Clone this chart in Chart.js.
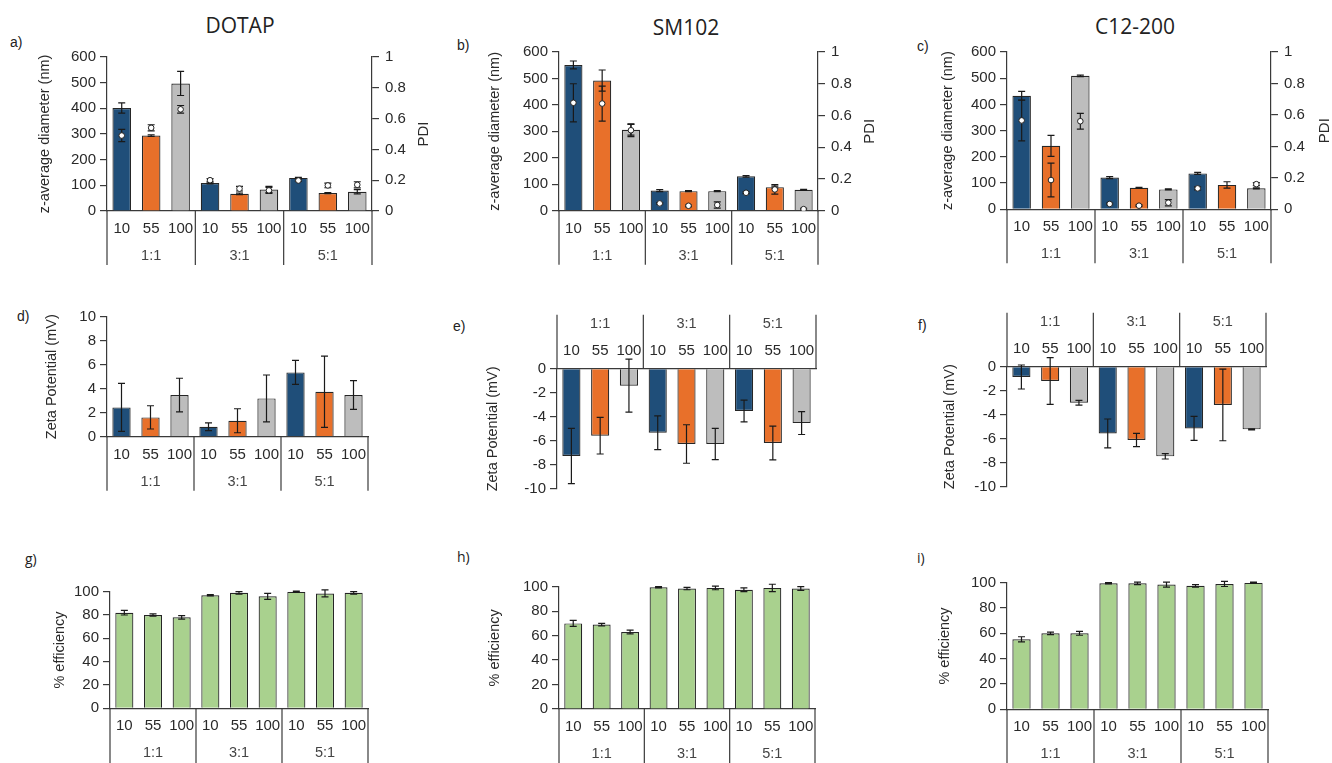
<!DOCTYPE html>
<html><head><meta charset="utf-8">
<script src="https://cdn.jsdelivr.net/npm/chart.js@4.4.1/dist/chart.umd.min.js"></script>
<style>
html,body{margin:0;padding:0;width:1332px;height:763px;overflow:hidden;background:#fff;position:relative;}
canvas{position:absolute;}
.t{position:absolute;font-family:"Open Sans","Noto Sans",sans-serif;font-size:21px;color:#222;transform:translate(-50%,-50%);white-space:nowrap;}
.l{position:absolute;font-family:"Liberation Sans",Arial,sans-serif;font-size:14px;color:#222;transform:translateY(-50%);white-space:nowrap;}
.l2{font-family:"Open Sans","Noto Sans",sans-serif;font-size:14px;}
</style></head><body>
<div class="t" style="left:240px;top:25px">DOTAP</div>
<div class="t" style="left:686px;top:27px">SM102</div>
<div class="t" style="left:1135px;top:26px">C12-200</div>
<div class="l" style="left:10px;top:42px">a)</div>
<div class="l" style="left:457px;top:45px">b)</div>
<div class="l" style="left:917px;top:46px">c)</div>
<div class="l" style="left:17px;top:316px">d)</div>
<div class="l" style="left:453px;top:326px">e)</div>
<div class="l" style="left:918px;top:325px">f)</div>
<div class="l l2" style="left:25px;top:558px">g)</div>
<div class="l l2" style="left:457px;top:556px">h)</div>
<div class="l l2" style="left:917px;top:557px">i)</div>
<script>
// ---------- data ----------
const categories = ['10','55','100','10','55','100','10','55','100'];
const groups = ['1:1','3:1','5:1'];

const zDOTAP      = [401, 294, 497, 109, 67, 84, 129, 70, 75];
const zDOTAPErr   = [20, 3, 47, 3, 3, 12, 2, 2, 8];
const pdiDOTAP    = [0.49, 0.54, 0.66, 0.20, 0.145, 0.134, 0.198, 0.166, 0.17];
const pdiDOTAPErr = [0.04, 0.02, 0.025, 0.01, 0.015, 0.02, 0.005, 0.015, 0.02];

const zSM      = [551, 492, 306, 76, 74, 74, 130, 89, 79];
const zSMErr   = [15, 40, 20, 4, 2, 2, 3, 4, 2];
const pdiSM    = [0.68, 0.675, 0.507, 0.046, 0.031, 0.036, 0.113, 0.134, 0.01];
const pdiSMErr = [0.12, 0.11, 0.04, 0.005, 0.005, 0.02, 0.005, 0.03, 0.005];

const zC      = [433, 242, 509, 121, 82, 76, 137, 93, 80];
const zCErr   = [17, 40, 3, 4, 2, 2, 4, 12, 2];
const pdiC    = [0.565, 0.186, 0.56, 0.034, 0.023, 0.042, 0.133, null, 0.16];
const pdiCErr = [0.13, 0.107, 0.05, 0.005, 0.005, 0.02, 0.01, 0, 0.01];

const zetaDOTAP    = [2.44, 1.61, 3.47, 0.83, 1.33, 3.19, 5.36, 3.75, 3.47];
const zetaDOTAPErr = [2.0, 0.97, 1.4, 0.33, 1.0, 1.95, 1.0, 2.97, 1.2];
const zetaSM       = [-7.26, -5.57, -1.41, -5.32, -6.26, -6.26, -3.52, -6.18, -4.52];
const zetaSMErr    = [2.3, 1.52, 2.2, 1.4, 1.6, 1.3, 0.9, 1.4, 0.95];
const zetaC        = [-0.86, -1.19, -3.0, -5.56, -6.11, -7.47, -5.14, -3.19, -5.22];
const zetaCErr     = [1.0, 1.95, 0.2, 1.2, 0.55, 0.22, 1.0, 2.98, 0.05];

const effDOTAP    = [82, 80, 78, 97, 99, 96, 100, 98.5, 99];
const effDOTAPErr = [2, 1, 1.5, 0.5, 1, 2.5, 0.5, 3, 1];
const effSM       = [70, 69, 63, 99.5, 98.5, 99, 97.5, 99, 98.5];
const effSMErr    = [2.5, 1, 1.5, 0.5, 1, 1.5, 1.5, 3, 1.5];
const effC        = [55.3, 60, 60, 99.5, 99.5, 98.5, 97.5, 99, 100];
const effCErr     = [2, 1, 1.5, 0.5, 1, 2, 1, 2, 0.5];

// ---------- style ----------
const FONT = '"Liberation Sans", Arial, sans-serif';
const TXT = '#2a2a2a';
const AX = '#3a3a3a';
const triColors = ['#1f4e79','#e8702a','#bdbdbd','#1f4e79','#e8702a','#bdbdbd','#1f4e79','#e8702a','#bdbdbd'];
const greenColors = categories.map(() => '#a9d18e');
const FS = 15;

const catPlugin = {
  id: 'cats',
  afterDraw(chart, args, opts) {
    const {ctx, chartArea: ca} = chart; const xs = chart.scales.x;
    const dir = opts.top ? -1 : 1; const y0 = opts.top ? ca.top : ca.bottom;
    ctx.save();
    ctx.strokeStyle = AX; ctx.lineWidth = 1.2;
    const b = [ca.left,
      (xs.getPixelForValue(2) + xs.getPixelForValue(3)) / 2,
      (xs.getPixelForValue(5) + xs.getPixelForValue(6)) / 2,
      ca.right];
    b.forEach(x => { ctx.beginPath(); ctx.moveTo(x, y0); ctx.lineTo(x, y0 + dir * (opts.len || 54)); ctx.stroke(); });
    ctx.fillStyle = TXT; ctx.font = FS + 'px ' + FONT; ctx.textAlign = 'center'; ctx.textBaseline = 'middle';
    chart.data.labels.forEach((l, i) => ctx.fillText(l, xs.getPixelForValue(i), y0 + dir * 18));
    ctx.fillStyle = '#444';
    ctx.font = (FS - 0.5) + 'px ' + FONT;
    groups.forEach((g, k) => ctx.fillText(g, (xs.getPixelForValue(3 * k) + xs.getPixelForValue(3 * k + 2)) / 2, y0 + dir * 45));
    ctx.restore();
  }
};

const errPlugin = {
  id: 'errs',
  afterDatasetDraw(chart, args, opts) {
    if (args.index !== 0) return;
    const ctx = chart.ctx;
    ctx.save(); ctx.strokeStyle = '#1a1a1a'; ctx.lineWidth = 1.2;
    (opts.sets || []).forEach(s => {
      const meta = chart.getDatasetMeta(s.ds); const sc = chart.scales[s.axis];
      s.vals.forEach((v, i) => {
        if (v == null || !s.errs[i]) return;
        const e = s.errs[i]; const x = meta.data[i].x;
        const yA = sc.getPixelForValue(v + e), yB = sc.getPixelForValue(v - e);
        ctx.beginPath();
        ctx.moveTo(x, yA); ctx.lineTo(x, yB);
        ctx.moveTo(x - 3.5, yA); ctx.lineTo(x + 3.5, yA);
        ctx.moveTo(x - 3.5, yB); ctx.lineTo(x + 3.5, yB);
        ctx.stroke();
      });
    });
    ctx.restore();
  }
};

const pdiTitlePlugin = {
  id: 'pdiTitle',
  afterDraw(chart, args, opts) {
    if (!opts.text) return;
    const {ctx, chartArea: ca} = chart;
    ctx.save();
    ctx.translate(ca.right + opts.dx, (ca.top + ca.bottom) / 2);
    ctx.rotate(-Math.PI / 2);
    ctx.fillStyle = TXT; ctx.font = FS + 'px ' + FONT; ctx.textAlign = 'center'; ctx.textBaseline = 'middle';
    ctx.fillText(opts.text, 0, 0);
    ctx.restore();
  }
};

function axisCommon() {
  return {
    grid: {display: true, drawOnChartArea: false, drawTicks: true, tickLength: 7, color: AX, lineWidth: 1.2},
    border: {display: true, color: AX, width: 1.2},
  };
}

function build(p) {
  const off = 4 + 0.6 * FS;
  const left = Math.round(p.titleX - off);
  const yW = p.x0 - left;
  const plotW = p.x1 - p.x0, plotH = p.bottom - p.top;
  const rW = p.pdi ? 70 : 0;
  const xH = 58;
  let top, padT, padB, H;
  if (p.xTop) {
    top = Math.floor(p.top - xH - 2); padT = p.top - xH - top;
    H = Math.ceil(padT + xH + plotH + 14); padB = H - padT - xH - plotH;
  } else {
    top = Math.floor(p.top - 14); padT = p.top - top;
    H = Math.ceil(padT + plotH + xH + 2); padB = H - padT - plotH - xH;
  }
  const W = Math.ceil(yW + plotW + rW + (p.pdi ? 0 : 12));
  const padR = W - yW - plotW - rW;
  const cv = document.createElement('canvas');
  cv.width = W; cv.height = H;
  cv.style.left = left + 'px'; cv.style.top = top + 'px';
  cv.style.width = W + 'px'; cv.style.height = H + 'px';
  document.body.appendChild(cv);

  const datasets = [{
    type: 'bar', data: p.vals, backgroundColor: p.colors, borderColor: '#262626', borderWidth: 1.2,
    barPercentage: 0.63, categoryPercentage: 1, order: 2, yAxisID: 'y'
  }];
  const sets = [{ds: 0, axis: 'y', vals: p.vals, errs: p.errs}];
  const scales = {
    x: {type: 'category', position: p.xTop ? 'top' : 'bottom', offset: true,
        grid: {display: false, drawTicks: false}, border: {display: true, color: AX, width: 1.2},
        ticks: {display: false}, afterFit: s => { s.height = xH; }},
    y: Object.assign(axisCommon(), {
      type: 'linear', position: 'left', min: p.min, max: p.max,
      ticks: {stepSize: p.step, color: TXT, padding: 4, font: {family: FONT, size: FS}},
      title: {display: true, text: p.yTitle, color: TXT, padding: {top: 4, bottom: 4}, font: {family: FONT, size: FS - 0.5}},
      afterFit: s => { s.width = yW; }
    })
  };
  if (p.pdi) {
    datasets.push({type: 'line', data: p.pdi, yAxisID: 'y2', showLine: false, pointRadius: 2.8,
      pointBackgroundColor: '#ffffff', pointBorderColor: '#222', pointBorderWidth: 1, order: 1});
    sets.push({ds: 1, axis: 'y2', vals: p.pdi, errs: p.pdiErr});
    scales.y2 = Object.assign(axisCommon(), {
      type: 'linear', position: 'right', min: 0, max: 1,
      ticks: {stepSize: 0.2, color: TXT, padding: 6, font: {family: FONT, size: FS},
              callback: v => String(Number(v.toFixed(2)))},
      afterFit: s => { s.width = rW; }
    });
  }
  new Chart(cv, {
    data: {labels: categories, datasets},
    options: {
      responsive: false, animation: false, devicePixelRatio: 1,
      layout: {padding: {left: 0, top: padT, right: padR, bottom: padB}},
      scales,
      plugins: {
        legend: {display: false}, tooltip: {enabled: false},
        cats: {top: !!p.xTop, len: p.len || 54},
        errs: {sets},
        pdiTitle: {text: p.pdi ? 'PDI' : '', dx: p.pdiDx || 52}
      }
    },
    plugins: [errPlugin, catPlugin, pdiTitlePlugin]
  });
}

const zTitle = 'z-average diameter (nm)';
const zetaTitle = 'Zeta Potential (mV)';
const effTitle = '% efficiency';

build({x0: 107, x1: 372, top: 56, bottom: 211, titleX: 45, min: 0, max: 600, step: 100, yTitle: zTitle,
  vals: zDOTAP, errs: zDOTAPErr, colors: triColors, pdi: pdiDOTAP, pdiErr: pdiDOTAPErr, pdiDx: 52});
build({x0: 559, x1: 818, top: 51.7, bottom: 210.7, titleX: 495, min: 0, max: 600, step: 100, yTitle: zTitle,
  vals: zSM, errs: zSMErr, colors: triColors, pdi: pdiSM, pdiErr: pdiSMErr, pdiDx: 52});
build({x0: 1007, x1: 1271, top: 51.7, bottom: 209.3, titleX: 948, min: 0, max: 600, step: 100, yTitle: zTitle,
  vals: zC, errs: zCErr, colors: triColors, pdi: pdiC, pdiErr: pdiCErr, pdiDx: 54});

build({x0: 107, x1: 368, top: 316.7, bottom: 436.7, titleX: 51.7, min: 0, max: 10, step: 2, yTitle: zetaTitle,
  vals: zetaDOTAP, errs: zetaDOTAPErr, colors: triColors});
build({x0: 557, x1: 816, top: 368.7, bottom: 489, titleX: 493, min: -10, max: 0, step: 2, yTitle: zetaTitle,
  vals: zetaSM, errs: zetaSMErr, colors: triColors, xTop: true});
build({x0: 1007, x1: 1266, top: 366.7, bottom: 486.7, titleX: 950, min: -10, max: 0, step: 2, yTitle: zetaTitle,
  vals: zetaC, errs: zetaCErr, colors: triColors, xTop: true});

build({x0: 110, x1: 368, top: 591.7, bottom: 708.3, titleX: 60, min: 0, max: 100, step: 20, yTitle: effTitle,
  vals: effDOTAP, errs: effDOTAPErr, colors: greenColors, len: 58});
build({x0: 559, x1: 815, top: 586.7, bottom: 709, titleX: 495, min: 0, max: 100, step: 20, yTitle: effTitle,
  vals: effSM, errs: effSMErr, colors: greenColors, len: 58});
build({x0: 1007, x1: 1268, top: 582.7, bottom: 709.3, titleX: 945, min: 0, max: 100, step: 20, yTitle: effTitle,
  vals: effC, errs: effCErr, colors: greenColors, len: 58});
</script>
</body></html>
